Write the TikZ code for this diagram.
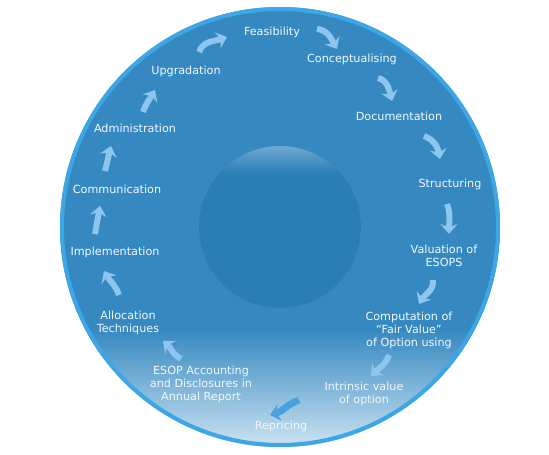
\documentclass[tikz,border=0pt]{standalone}
\usepackage{fontspec}
\setmainfont{DejaVu Sans}
\usetikzlibrary{arrows.meta}
\definecolor{ringfill}{RGB}{53,137,192}
\definecolor{ringedge}{RGB}{60,166,230}
\definecolor{ringlight}{RGB}{204,227,241}
\definecolor{corefill}{RGB}{41,126,182}
\definecolor{corelight}{RGB}{112,169,208}
\definecolor{arrowcolor}{RGB}{141,197,238}
\definecolor{arrowdark}{RGB}{74,159,221}
\definecolor{labelcolor}{RGB}{244,248,252}

\begin{document}
\begin{tikzpicture}[x=1pt,y=1pt,
  stage/.style={text=labelcolor, align=center, inner sep=0pt,
    font=\fontsize{11.2}{13}\selectfont},
  flowarrow/.style={arrowcolor, line width=6pt,
    -{Stealth[length=10pt,width=17pt,inset=3.5pt]}}]
  % Page size
  \useasboundingbox (0,0) rectangle (549,455);

  % Outer disc with light bottom
  \begin{scope}
    \clip (280,228) circle (220);
    \fill[ringfill] (60,8) rectangle (500,448);
    \shade[top color=ringfill, bottom color=ringlight] (60,8) rectangle (500,126);
  \end{scope}
  \draw[ringedge, line width=4pt] (280,228) circle (218);

  % Inner disc with highlight on top
  \begin{scope}
    \clip (280,228) circle (81);
    \fill[corefill] (199,147) rectangle (361,309);
    \shade[top color=corelight, bottom color=corefill] (199,282) rectangle (361,309);
  \end{scope}

  % Stages round the ring
  \node[stage] (feasibility) at (272,423) {Feasibility};
  \node[stage] (conceptualising) at (352,396) {Conceptualising};
  \node[stage] (documentation) at (399,339) {Documentation};
  \node[stage] (structuring) at (450,271) {Structuring};
  \node[stage] (valuation) at (444,199) {Valuation of\\ESOPS};
  \node[stage] (computation) at (409,125) {Computation of\\``Fair Value''\\of Option using};
  \node[stage] (intrinsic) at (364,61) {Intrinsic value\\of option};
  \node[stage] (repricing) at (281,29) {Repricing};
  \node[stage] (accounting) at (201,71) {ESOP Accounting\\and Disclosures in\\Annual Report};
  \node[stage] (allocation) at (128,132) {Allocation\\Techniques};
  \node[stage] (implementation) at (115,203) {Implementation};
  \node[stage] (communication) at (117,266) {Communication};
  \node[stage] (administration) at (135,327) {Administration};
  \node[stage] (upgradation) at (186,384) {Upgradation};

  % Curved arrows between stages
  \foreach \n/\sx/\sy/\ex/\ey/\o/\i in {
    1/199/403/227/418/70/200,
    2/317/426/337/406/-5/120,
    3/378/377/392/354/-15/105,
    4/424/319/440/296/-20/100,
    5/447/251/449/221/-70/90,
    6/433/175/419/151/-85/60,
    7/389/100/371/79/-110/45,
    9/181/96/163/114/150/-40,
    10/119/160/104/184/110/-60,
    11/95/221/100/249/80/-100,
    12/105/284/111/309/75/-105,
    13/143/343/155/365/70/-120} {
    \coordinate (S\n) at (\sx,\sy);
    \coordinate (E\n) at (\ex,\ey);
    \draw[flowarrow] (S\n) to[out=\o,in=\i] (E\n);
  }

  % Darker arrow above Repricing
  \coordinate (S8) at (299,55);
  \coordinate (E8) at (270,40);
  \draw[flowarrow, arrowdark, line width=7pt] (S8) to[out=200,in=15] (E8);

\end{tikzpicture}
\end{document}
